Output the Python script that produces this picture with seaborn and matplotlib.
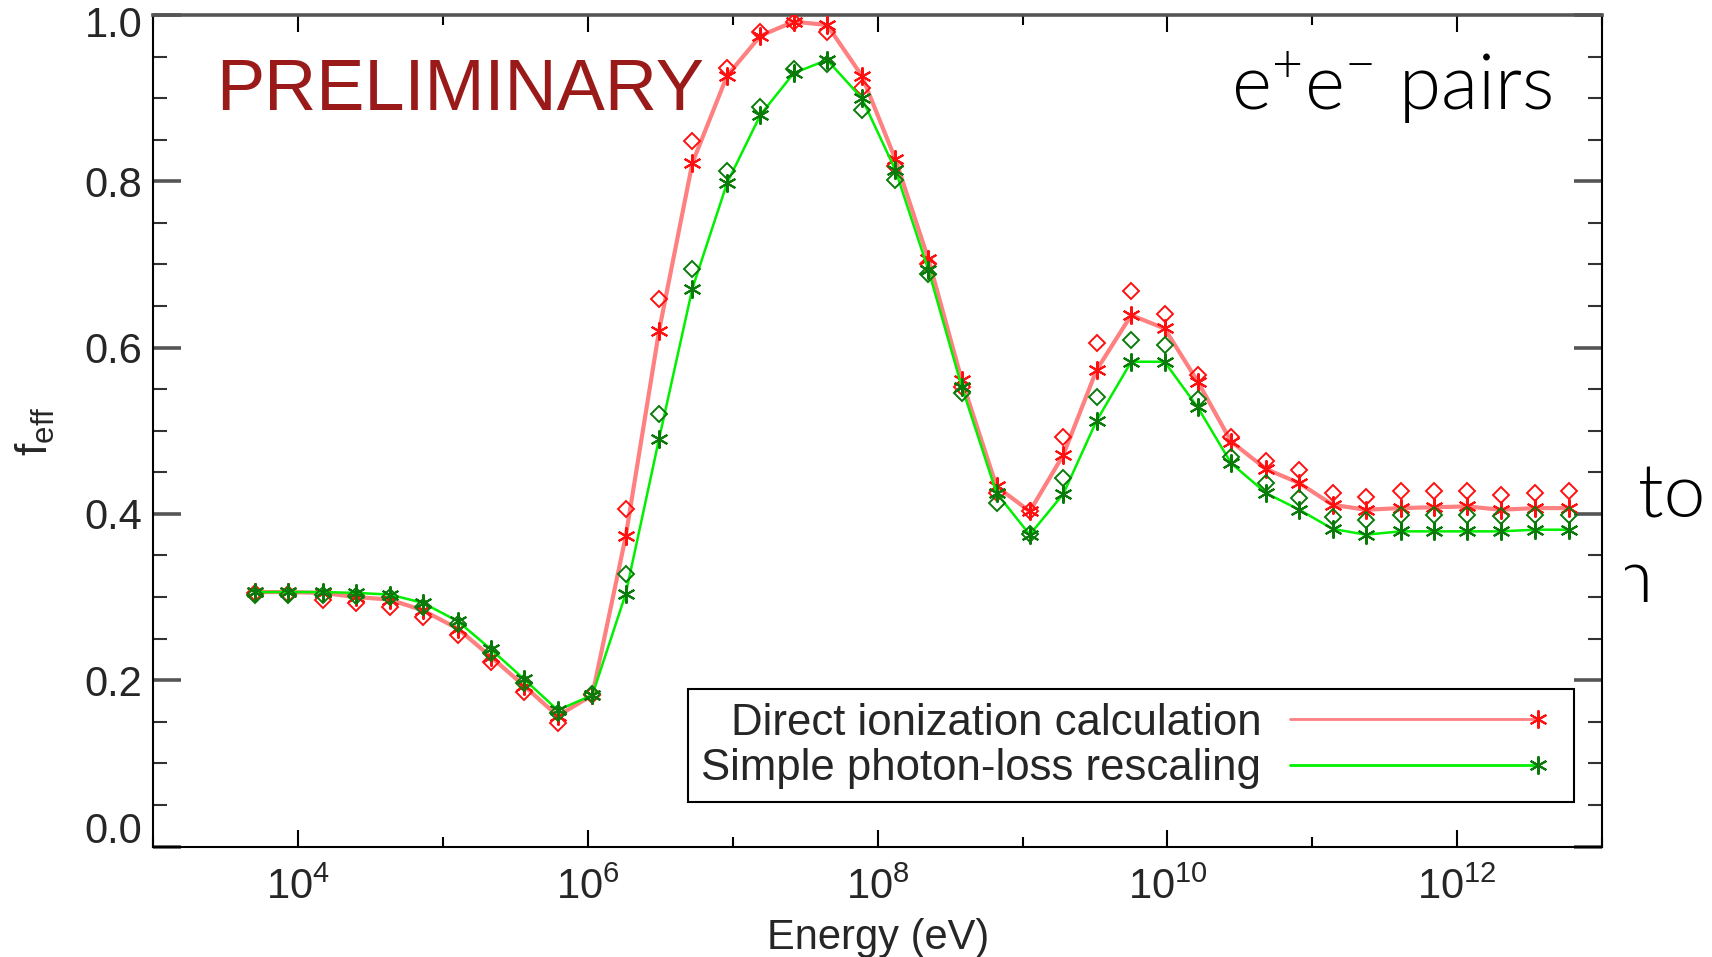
import numpy as np
import pandas as pd
import matplotlib
matplotlib.use("Agg")
import matplotlib.pyplot as plt
import seaborn as sns
from matplotlib.lines import Line2D
from matplotlib.legend_handler import HandlerBase
from matplotlib.ticker import FixedLocator, NullFormatter, FuncFormatter
from matplotlib.transforms import Bbox, TransformedBbox

# ---------------- data ----------------
energy_ev = [5.0e3, 8.5e3, 1.48e4, 2.51e4, 4.27e4, 7.24e4, 1.26e5, 2.14e5, 3.63e5, 6.17e5,
             1.07e6, 1.82e6, 3.09e6, 5.25e6, 9.12e6, 1.55e7, 2.63e7, 4.47e7, 7.76e7, 1.32e8,
             2.24e8, 3.80e8, 6.61e8, 1.12e9, 1.91e9, 3.24e9, 5.62e9, 9.55e9, 1.62e10, 2.75e10,
             4.79e10, 8.13e10, 1.38e11, 2.34e11, 4.07e11, 6.92e11, 1.17e12, 2.00e12, 3.47e12, 5.89e12]

direct_star = [0.306, 0.306, 0.305, 0.300, 0.297, 0.284, 0.262, 0.228, 0.193, 0.157,
               0.182, 0.373, 0.620, 0.822, 0.927, 0.975, 0.992, 0.988, 0.927, 0.827,
               0.706, 0.561, 0.433, 0.403, 0.471, 0.573, 0.639, 0.623, 0.559, 0.487,
               0.454, 0.437, 0.411, 0.405, 0.407, 0.408, 0.409, 0.405, 0.407, 0.407]
direct_diam = [0.305, 0.304, 0.297, 0.293, 0.288, 0.276, 0.254, 0.222, 0.186, 0.149,
               0.182, 0.406, 0.658, 0.849, 0.936, 0.979, 0.992, 0.980, 0.912, 0.818,
               0.701, 0.553, 0.425, 0.403, 0.493, 0.606, 0.668, 0.640, 0.567, 0.493,
               0.464, 0.453, 0.425, 0.420, 0.427, 0.427, 0.427, 0.423, 0.425, 0.427]
simple_star = [0.306, 0.306, 0.306, 0.305, 0.303, 0.293, 0.271, 0.237, 0.201, 0.164,
               0.182, 0.304, 0.490, 0.671, 0.798, 0.880, 0.930, 0.946, 0.900, 0.814,
               0.693, 0.553, 0.425, 0.375, 0.424, 0.512, 0.583, 0.583, 0.528, 0.461,
               0.425, 0.405, 0.382, 0.375, 0.379, 0.379, 0.379, 0.379, 0.381, 0.381]
simple_diam = [0.303, 0.303, 0.303, 0.301, 0.300, 0.288, 0.267, 0.233, 0.197, 0.160,
               0.183, 0.328, 0.520, 0.694, 0.812, 0.889, 0.935, 0.941, 0.886, 0.802,
               0.689, 0.545, 0.413, 0.376, 0.443, 0.541, 0.609, 0.603, 0.538, 0.469,
               0.437, 0.419, 0.396, 0.393, 0.399, 0.399, 0.399, 0.397, 0.399, 0.399]

series_labels = ["Direct ionization calculation", "Simple photon-loss rescaling"]
x_major = [1e4, 1e6, 1e8, 1e10, 1e12]
x_minor = [1e3, 1e5, 1e7, 1e9, 1e11, 1e13]
y_major = [0.0, 0.2, 0.4, 0.6, 0.8, 1.0]
y_minor = [0.05, 0.1, 0.15, 0.25, 0.3, 0.35, 0.45, 0.5, 0.55, 0.65, 0.7, 0.75, 0.85, 0.9, 0.95]

df = pd.DataFrame({"E": energy_ev, "ds": direct_star, "dd": direct_diam,
                   "ss": simple_star, "sd": simple_diam})

# ---------------- style ----------------
sns.set_style("white")
plt.rcParams["font.family"] = ["Liberation Sans", "DejaVu Sans"]
plt.rcParams["mathtext.fontset"] = "custom"
plt.rcParams["mathtext.rm"] = "Liberation Sans"
plt.rcParams["mathtext.it"] = "Liberation Sans"
plt.rcParams["mathtext.default"] = "regular"

fig = plt.figure(figsize=(17.12, 9.57), dpi=100)
ax = fig.add_axes([0.08966, 0.11546, 0.8461, 0.86887])

RED_LINE = "#ff8080"
RED = "#ff1010"
GREEN_LINE = "#00f000"
GREEN = "#0a7a0a"
AST = (6, 2, 0)

sns.lineplot(data=df, x="E", y="ds", ax=ax, estimator=None, sort=False,
             color=RED_LINE, lw=3.0, marker=AST, ms=13, mec=RED, mew=1.5, zorder=3)
sns.lineplot(data=df, x="E", y="dd", ax=ax, estimator=None, sort=False,
             color=RED, ls="none", marker="D", ms=8, mfc="none", mec=RED, mew=1.4, zorder=3)
sns.lineplot(data=df, x="E", y="ss", ax=ax, estimator=None, sort=False,
             color=GREEN_LINE, lw=1.8, marker=AST, ms=13, mec=GREEN, mew=1.5, zorder=4)
sns.lineplot(data=df, x="E", y="sd", ax=ax, estimator=None, sort=False,
             color=GREEN, ls="none", marker="D", ms=8, mfc="none", mec=GREEN, mew=1.4, zorder=4)

ax.set_xscale("log")
ax.set_xlim(1e3, 1e13)
ax.set_ylim(0.0, 1.0)

ax.xaxis.set_major_locator(FixedLocator(x_major))
ax.xaxis.set_minor_locator(FixedLocator(x_minor))
ax.xaxis.set_minor_formatter(NullFormatter())
ax.yaxis.set_major_locator(FixedLocator(y_major))
ax.yaxis.set_minor_locator(FixedLocator(y_minor))
ax.yaxis.set_major_formatter(FuncFormatter(lambda v, p: "" if v in (0.0, 1.0) else f"{v:.1f}"))

ax.tick_params(axis="y", which="major", direction="in", length=20, width=2.6,
               color="#555555", left=True, right=True, pad=8, labelsize=30)
ax.tick_params(axis="y", which="minor", direction="in", length=10, width=1.5,
               color="#333333", left=True, right=True)
ax.tick_params(axis="x", which="major", direction="in", length=12.5, width=1.5,
               color="black", top=True, bottom=True, pad=15, labelsize=30)
ax.tick_params(axis="x", which="minor", direction="in", length=7, width=1.5,
               color="black", top=True, bottom=True)

# offset end labels as in the reference
ax.annotate("0.0", xy=(0, 0.0), xycoords=("axes fraction", "data"), xytext=(-11, 15),
            textcoords="offset pixels", ha="right", va="center", fontsize=30)
ax.annotate("1.0", xy=(0, 1.0), xycoords=("axes fraction", "data"), xytext=(-11, -11),
            textcoords="offset pixels", ha="right", va="center", fontsize=30)

for side in ["left", "right", "bottom"]:
    ax.spines[side].set_color("black")
    ax.spines[side].set_linewidth(1.5)
ax.spines["top"].set_color("#555555")
ax.spines["top"].set_linewidth(2.6)

ax.set_xlabel("Energy (eV)", fontsize=30, va="baseline")
ax.xaxis.set_label_coords(0.5, -0.1229)
ax.set_ylabel(r"f$_{\mathrm{eff}}$", fontsize=32, va="center")
ax.yaxis.set_label_coords(-0.0815, 0.5)


class EndMarkerHandler(HandlerBase):
    """Legend entry: line with a single marker at its right end."""
    def create_artists(self, legend, orig_handle, xdescent, ydescent, width, height,
                       fontsize, trans):
        y = (height - ydescent) / 2.0
        end = -xdescent + width * 0.915
        line = Line2D([-xdescent, end], [y, y])
        self.update_prop(line, orig_handle, legend)
        line.set_marker("None")
        mark = Line2D([end], [y])
        self.update_prop(mark, orig_handle, legend)
        mark.set_linestyle("None")
        line.set_transform(trans)
        mark.set_transform(trans)
        return [line, mark]


h1 = Line2D([], [], color=RED_LINE, lw=2, marker=AST, ms=13, mec=RED, mew=1.5)
h2 = Line2D([], [], color=GREEN_LINE, lw=2, marker=AST, ms=13, mec=GREEN, mew=1.5)
leg = ax.legend([h1, h2], series_labels, loc="lower right", bbox_to_anchor=(0.9807, 0.0535),
                bbox_transform=ax.transAxes, borderaxespad=0, markerfirst=False,
                fontsize=31.5, handlelength=6.2, handletextpad=0.65, borderpad=0.3,
                labelspacing=0.1, fancybox=False, framealpha=1, edgecolor="black",
                handler_map={Line2D: EndMarkerHandler()})
leg.get_frame().set_linewidth(1.5)

# annotations
LIGHT = ["Lato", "DejaVu Sans"]
fig.text(216 / 1712, 1 - 110 / 957, "PRELIMINARY", color="#9a1a1a", fontsize=52,
         family=["Liberation Sans", "DejaVu Sans"], va="baseline", ha="left")
fig.text(1552 / 1712, 1 - 110 / 957, r"e$^{+}$e$^{-}$ pairs", color="black",
         fontsize=55, family=LIGHT, weight=300, va="baseline", ha="right")
fig.text(1638 / 1712, 1 - 517 / 957, "to", color="black", fontsize=54,
         family=LIGHT, weight=300, va="baseline", ha="left")
tn = fig.text(1612 / 1712, 1 - 602 / 957, "n", color="black", fontsize=54,
              family=LIGHT, weight=300, va="baseline", ha="left")
tn.set_clip_box(TransformedBbox(Bbox([[1625 / 1712, 0], [1, 1]]), fig.transFigure))
tn.set_clip_on(True)

fig.savefig("out.png", dpi=100)
